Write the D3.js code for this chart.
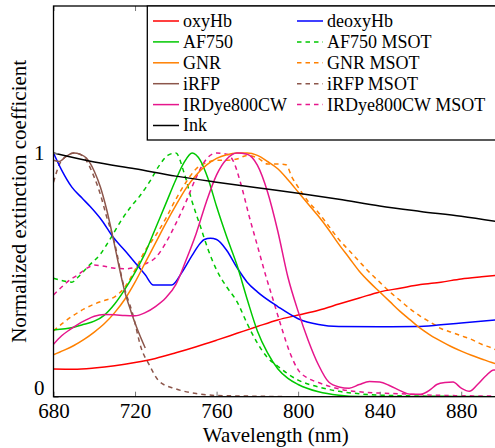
<!DOCTYPE html>
<html><head><meta charset="utf-8">
<script src="https://cdn.jsdelivr.net/npm/d3@7"></script>
</head><body style="margin:0"><div id="chart"></div>
<script>
// ---- data (wavelength nm, normalized value) ----
const oxyHb = [[680,.114],[690,.113],[700,.118],[710,.127],[720,.14],[730,.157],[740,.18],[750,.205],[760,.232],[770,.26],[780,.288],[790,.315],[800,.335],[810,.355],[820,.38],[830,.405],[840,.43],[850,.445],[860,.46],[870,.47],[880,.483],[890,.492],[900,.5]];
const deoxyHb = [[680,1.0],[684,.93],[689,.86],[694,.815],[698,.78],[704,.72],[709,.657],[715,.6],[721,.54],[725,.5],[729,.458],[738,.458],[743,.51],[748,.58],[752,.63],[754,.645],[757,.65],[760,.645],[765,.6],[770,.53],[775,.47],[780,.43],[790,.37],[800,.32],[810,.296],[820,.288],[840,.287],[858,.288],[870,.295],[880,.302],[900,.317]];
const af750 = [[680,.274],[690,.285],[695,.297],[700,.31],[705,.335],[710,.38],[715,.44],[720,.51],[725,.59],[730,.69],[735,.79],[740,.89],[744,.96],[748,1.0],[752,.97],[756,.89],[760,.78],[765,.655],[770,.54],[775,.4],[780,.27],[785,.18],[790,.115],[795,.075],[800,.05],[810,.02],[820,.006],[830,.001],[900,0]];
const af750Msot = [[680,.486],[685,.475],[689,.47],[692,.49],[697,.535],[703,.585],[708,.65],[713,.72],[718,.78],[722,.82],[727,.88],[732,.95],[736,.99],[740,1.0],[744,.92],[748,.8],[752,.7],[756,.6],[760,.52],[765,.45],[770,.39],[775,.3],[780,.22],[785,.16],[790,.125],[800,.068],[810,.04],[820,.022],[830,.012],[850,.004],[900,0]];
const gnr = [[680,.172],[685,.19],[690,.21],[695,.235],[700,.265],[705,.3],[710,.345],[715,.4],[720,.47],[725,.55],[730,.63],[735,.71],[740,.785],[745,.855],[750,.91],[755,.95],[760,.978],[765,.993],[770,1.0],[775,1.0],[780,.99],[785,.965],[790,.935],[795,.89],[800,.84],[805,.79],[810,.74],[815,.685],[820,.625],[825,.57],[830,.515],[835,.47],[840,.43],[845,.39],[850,.35],[855,.315],[860,.28],[865,.252],[870,.228],[875,.206],[880,.187],[885,.17],[890,.155],[895,.14],[900,.128]];
const gnrMsot = [[680,.27],[685,.305],[690,.335],[695,.36],[700,.38],[705,.395],[710,.41],[715,.45],[720,.52],[725,.6],[730,.66],[735,.73],[740,.81],[745,.88],[750,.935],[755,.96],[760,.97],[765,.97],[770,.975],[775,.99],[780,.98],[785,.955],[790,.955],[794,.952],[797,.9],[800,.86],[805,.8],[810,.755],[815,.7],[820,.645],[825,.6],[830,.555],[835,.51],[840,.47],[845,.43],[850,.395],[855,.36],[860,.33],[865,.305],[870,.28],[875,.265],[880,.25],[885,.235],[890,.215],[895,.2],[900,.18]];
const irfp = [[680,.97],[683,.965],[686,.985],[690,1.0],[693,.995],[696,.98],[700,.925],[703,.86],[706,.77],[709,.66],[712,.54],[715,.43],[718,.35],[721,.28],[725,.2]];
const irfpMsot = [[680,.88],[683,.955],[686,.985],[690,1.0],[693,.995],[696,.97],[700,.9],[703,.83],[706,.74],[710,.63],[714,.47],[719,.335],[723,.2],[727,.13],[732,.062],[740,.032],[750,.013],[760,.005],[780,.002],[800,0],[900,0]];
const irdye = [[680,.215],[684,.25],[688,.275],[692,.297],[696,.315],[700,.33],[705,.337],[710,.336],[715,.333],[720,.332],[725,.345],[730,.37],[735,.405],[740,.46],[745,.56],[750,.67],[755,.8],[760,.91],[765,.975],[770,1.0],[775,.995],[780,.95],[785,.84],[790,.68],[795,.49],[800,.35],[805,.23],[810,.13],[815,.06],[820,.04],[825,.035],[830,.05],[835,.062],[840,.06],[845,.045],[850,.025],[855,.01],[860,.01],[865,.03],[868,.05],[872,.058],[876,.06],[880,.035],[884,.022],[888,.05],[892,.085],[896,.11],[900,.1]];
const irdyeMsot = [[680,.417],[684,.45],[688,.479],[692,.5],[696,.525],[700,.54],[705,.535],[710,.527],[715,.525],[720,.53],[725,.545],[730,.57],[735,.63],[740,.71],[745,.8],[750,.9],[755,.975],[760,1.0],[765,.995],[768,.97],[772,.87],[776,.74],[780,.62],[784,.5],[788,.39],[792,.28],[796,.18],[800,.11],[805,.075],[810,.058],[820,.032],[830,.02],[840,.015],[850,.012],[860,.008],[880,.004],[900,.002]];
const ink = [[680,1.0],[700,.963],[720,.935],[740,.905],[760,.88],[780,.857],[800,.835],[820,.81],[840,.782],[860,.76],[880,.74],[900,.715]];

const xTicks = [680,720,760,800,840,880];
const yTicks = [0,1];

const series = [
  {name:"oxyHb", data:oxyHb, color:"#ff0000", dash:false},
  {name:"deoxyHb", data:deoxyHb, color:"#0000ff", dash:false},
  {name:"AF750", data:af750, color:"#00c800", dash:false},
  {name:"AF750 MSOT", data:af750Msot, color:"#00c800", dash:true},
  {name:"GNR", data:gnr, color:"#ff8000", dash:false},
  {name:"GNR MSOT", data:gnrMsot, color:"#ff8000", dash:true},
  {name:"iRFP", data:irfp, color:"#8c564b", dash:false},
  {name:"iRFP MSOT", data:irfpMsot, color:"#8c564b", dash:true},
  {name:"IRDye800CW", data:irdye, color:"#e6168c", dash:false},
  {name:"IRDye800CW MSOT", data:irdyeMsot, color:"#e6168c", dash:true},
  {name:"Ink", data:ink, color:"#000000", dash:false}
];

const FONT = "Liberation Serif";
function setFont(sel, size) {
  return sel.attr("font-family", FONT).attr("font-size", size);
}
const W = 495, H = 448;
const L = 53.5, R = 502, T = 6, B = 396.7;
const svg = d3.select("#chart").append("svg").attr("width", W).attr("height", H).style("display","block");
const x = d3.scaleLinear().domain([680, 900]).range([L, R]);
const y = d3.scaleLinear().domain([0, 1.603]).range([B, T]);

svg.append("clipPath").attr("id","clip").append("rect").attr("x",L).attr("y",T).attr("width",R-L).attr("height",B-T);

const line = d3.line().x(d=>x(d[0])).y(d=>y(d[1])).curve(d3.curveMonotoneX);
const g = svg.append("g").attr("clip-path","url(#clip)");
const order = ["iRFP MSOT","AF750 MSOT","GNR MSOT","IRDye800CW MSOT","oxyHb","deoxyHb","AF750","GNR","iRFP","IRDye800CW","Ink"];
order.forEach(n => {
  const s = series.find(d=>d.name===n);
  g.append("path").datum(s.data).attr("d", line).attr("fill","none")
    .attr("stroke", s.color).attr("stroke-width", 1.5)
    .attr("stroke-dasharray", s.dash ? "4.5,4" : null);
});

const fs = 21;
const axB = svg.append("g").attr("transform",`translate(0,${B})`)
  .call(d3.axisBottom(x).tickValues(xTicks).tickSize(-5).tickPadding(10).tickFormat(d3.format("d")));
const axT = svg.append("g").attr("transform",`translate(0,${T})`)
  .call(d3.axisTop(x).tickValues(xTicks).tickSize(-5).tickFormat(""));
const axL = svg.append("g").attr("transform",`translate(${L},0)`)
  .call(d3.axisLeft(y).tickValues(yTicks).tickSize(-5).tickPadding(9).tickFormat(d3.format("d")));
const axR = svg.append("g").attr("transform",`translate(${R},0)`)
  .call(d3.axisRight(y).tickValues(yTicks).tickSize(-5).tickFormat(""));
[axB,axT,axL,axR].forEach(a=>{
  setFont(a, fs);
  a.select(".domain").remove();
  a.selectAll(".tick line").attr("stroke","#777").attr("stroke-width",1);
  setFont(a.selectAll("text").attr("fill","#000"), fs);
});
axB.selectAll("text").attr("dy","0.55em");
axL.selectAll("text").attr("dy","0.3em");
axL.selectAll(".tick").filter(d=>d===0).select("text").attr("dy","-0.12em");

svg.append("rect").attr("x",L).attr("y",T).attr("width",R-L).attr("height",B-T)
  .attr("fill","none").attr("stroke","#000").attr("stroke-width",1.3);

setFont(svg.append("text"), fs).attr("x", (L+R)/2 - 2).attr("y", 442).attr("text-anchor","middle")
  .text("Wavelength (nm)");
setFont(svg.append("text"), fs).attr("transform",`translate(26,${(T+B)/2}) rotate(-90)`).attr("text-anchor","middle")
  .text("Normalized extinction coefficient");

// legend
const lg = svg.append("g");
lg.append("rect").attr("x",147.3).attr("y",T).attr("width",352).attr("height",134)
  .attr("fill","#fff").attr("stroke","#000").attr("stroke-width",1.3);
const legCols = [
  ["oxyHb","AF750","GNR","iRFP","IRDye800CW","Ink"],
  ["deoxyHb","AF750 MSOT","GNR MSOT","iRFP MSOT","IRDye800CW MSOT"]
];
const colX = [153, 297];
legCols.forEach((col, ci) => {
  col.forEach((n, ri) => {
    const s = series.find(d=>d.name===n);
    const cy = 21 + ri*20.9;
    lg.append("line").attr("x1",colX[ci]).attr("x2",colX[ci]+26).attr("y1",cy).attr("y2",cy)
      .attr("stroke",s.color).attr("stroke-width",1.5).attr("stroke-dasharray", s.dash ? "4.5,4" : null);
    setFont(lg.append("text"), 18).attr("x",colX[ci]+30).attr("y",cy).attr("dy","0.33em").text(n);
  });
});
</script></body></html>
